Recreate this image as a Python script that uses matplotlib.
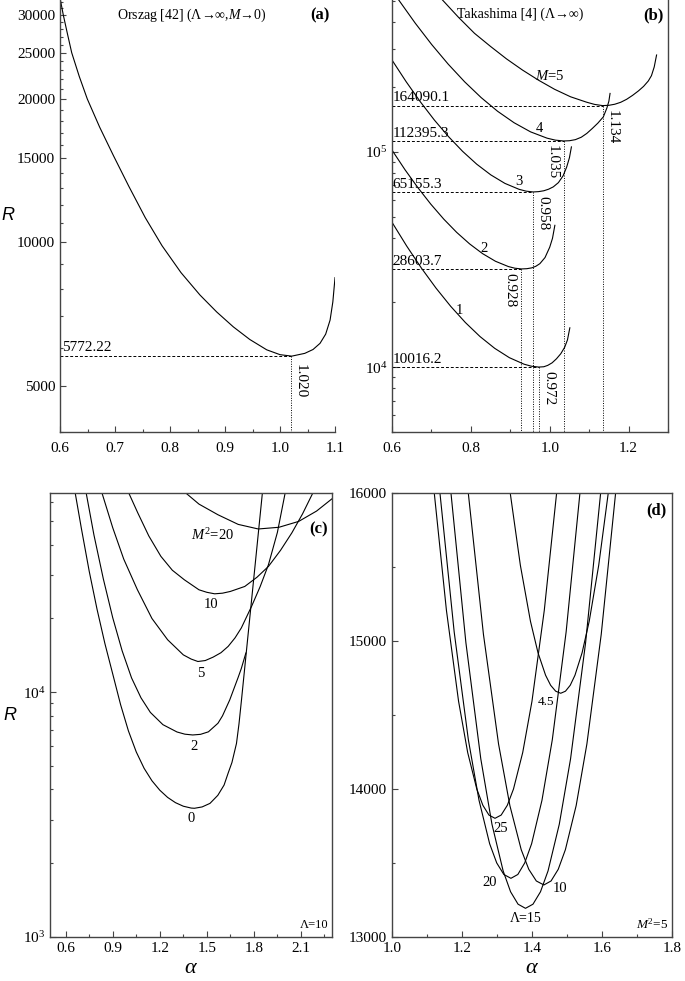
import matplotlib
matplotlib.use('Agg')
import matplotlib.pyplot as plt
from matplotlib.ticker import MultipleLocator, FixedLocator, LogLocator, NullFormatter, FixedFormatter

plt.rcParams['font.family'] = ['Liberation Serif', 'DejaVu Serif']
plt.rcParams['mathtext.fontset'] = 'custom'
plt.rcParams['mathtext.rm'] = 'Liberation Serif'
plt.rcParams['mathtext.it'] = 'Liberation Serif:italic'
plt.rcParams['mathtext.bf'] = 'Liberation Serif:bold'

# ---------------- datos ----------------
# (a) Orszag
a_alpha = [0.6007, 0.606, 0.6135, 0.6213, 0.635, 0.6496, 0.672, 0.697, 0.725, 0.755, 0.7855, 0.820, 0.8545,
           0.885, 0.9151, 0.945, 0.9758, 1.000, 1.0213, 1.045, 1.060, 1.0727, 1.083, 1.091, 1.096, 1.100]
a_R = [32260, 30000, 27400, 25000, 22300, 20000, 17460, 15220, 13120, 11270, 9840, 8640, 7754,
       7143, 6649, 6256, 5951, 5813, 5772, 5850, 5960, 6140, 6420, 6870, 7500, 8435]
a_min_alpha = 1.020
a_min_R = 5772.22

# (b) Takashima, M = 1..5
b1_alpha = [0.600, 0.6372, 0.6744, 0.7116, 0.7488, 0.786, 0.8232, 0.8604, 0.8976, 0.9348, 0.9534, 0.972,
            0.985, 0.995, 1.006, 1.017, 1.028, 1.038, 1.045, 1.051]
b1_R = [47100, 36540, 28890, 23300, 19180, 16130, 13880, 12240, 11075, 10330, 10110, 10016,
        10050, 10200, 10480, 10940, 11550, 12390, 13400, 15240]
b2_alpha = [0.600, 0.6328, 0.6656, 0.6984, 0.7312, 0.764, 0.7968, 0.8296, 0.8624, 0.8952, 0.9116, 0.928,
            0.942, 0.955, 0.965, 0.975, 0.988, 1.000, 1.007, 1.013]
b2_R = [101900, 82700, 68230, 57180, 48740, 42290, 37390, 33700, 31050, 29340, 28830, 28604,
        28680, 28950, 29450, 30270, 32300, 36100, 39700, 45600]
b3_alpha = [0.600, 0.6358, 0.6716, 0.7074, 0.7432, 0.779, 0.8148, 0.8506, 0.8864, 0.9222, 0.9401, 0.958,
            0.972, 0.985, 0.997, 1.009, 1.022, 1.034, 1.043, 1.050, 1.055]
b3_R = [267000, 211900, 171100, 140600, 117800, 100600, 87700, 78200, 71400, 67030, 65720, 65155,
        65400, 66000, 67100, 68800, 72000, 77500, 85100, 94000, 105500]
b4_alpha = [0.617, 0.6588, 0.7006, 0.7424, 0.7842, 0.826, 0.8678, 0.9096, 0.9514, 0.9932, 1.0141, 1.035,
            1.050, 1.065, 1.080, 1.094, 1.108, 1.122, 1.136, 1.145, 1.150, 1.153]
b4_R = [507600, 396400, 315300, 255700, 211600, 178800, 154400, 136600, 123900, 115840, 113430, 112395,
        112700, 114000, 117000, 121850, 128500, 136000, 145500, 160000, 172000, 186900]
b5_alpha = [0.728, 0.7686, 0.8092, 0.8498, 0.8904, 0.931, 0.9716, 1.0122, 1.0528, 1.0934, 1.1137, 1.134,
            1.150, 1.165, 1.180, 1.195, 1.210, 1.225, 1.238, 1.250, 1.258, 1.265, 1.271]
b5_R = [507600, 421800, 355400, 309000, 270400, 239900, 215300, 195400, 180300, 170200, 166200, 164090,
        164600, 166500, 170000, 175500, 183000, 192000, 201500, 213500, 226000, 248000, 281900]

b_min_alpha = [0.972, 0.928, 0.958, 1.035, 1.134]
b_min_R = [10016.2, 28603.7, 65155.3, 112395.3, 164090.1]
b_min_alpha_txt = ["0.972", "0.928", "0.958", "1.035", "1.134"]
b_min_R_txt = ["10016.2", "28603.7", "65155.3", "112395.3", "164090.1"]
b_curve_labels = ["1", "2", "3", "4", "$M$=5"]

# (c) Lambda = 10, M^2 = 0, 2, 5, 10, 20
c0_alpha = [0.661, 0.700, 0.750, 0.800, 0.850, 0.900, 0.950, 1.000, 1.050, 1.100, 1.150, 1.200, 1.250, 1.300,
            1.350, 1.400, 1.421, 1.470, 1.520, 1.570, 1.610, 1.636, 1.660, 1.689, 1.705, 1.721, 1.760, 1.807, 1.854]
c0_R = [65000, 46700, 31200, 21800, 15800, 11860, 8890, 6942, 5694, 4881, 4341, 3972, 3711, 3532,
        3416, 3357, 3350, 3393, 3508, 3784, 4169, 4667, 5152, 6166, 7413, 9290, 16440, 32660, 65000]
c2_alpha = [0.731, 0.780, 0.840, 0.900, 0.960, 1.020, 1.080, 1.140, 1.220, 1.310, 1.360, 1.410,
            1.460, 1.510, 1.571, 1.600, 1.646, 1.700, 1.720, 1.749]
c2_R = [65000, 43950, 29040, 20140, 14750, 11430, 9480, 8260, 7360, 6870, 6730, 6680,
        6720, 6880, 7460, 8000, 9290, 11500, 12500, 14450]
c5_alpha = [0.832, 0.900, 0.970, 1.057, 1.150, 1.250, 1.350, 1.400, 1.443, 1.490, 1.540, 1.590, 1.636,
            1.680, 1.720, 1.785, 1.840, 1.893, 1.950, 1.999]
c5_R = [65000, 47000, 35000, 26240, 20000, 16370, 14200, 13650, 13340, 13460, 13900, 14490, 15380,
        16670, 18300, 22400, 27000, 33200, 45000, 65000]
c10_alpha = [1.003, 1.060, 1.130, 1.207, 1.280, 1.357, 1.450, 1.500, 1.550, 1.600, 1.650, 1.742, 1.820,
             1.893, 1.970, 2.042, 2.110, 2.175]
c10_R = [65000, 54000, 43500, 35900, 31500, 28780, 26200, 25590, 25230, 25380, 25800, 27040, 29500,
         32660, 38000, 44770, 53500, 65000]
c20_alpha = [1.368, 1.450, 1.571, 1.700, 1.828, 1.960, 2.086, 2.200, 2.317]
c20_R = [65000, 58700, 53100, 48500, 46450, 47200, 49890, 55000, 63100]

# (d) M^2 = 5, Lambda = 25, 20, 15, 10, 4.5
d25_alpha = [1.1215, 1.1561, 1.1907, 1.2167, 1.2427, 1.2600, 1.2773, 1.2946, 1.3122, 1.3297, 1.3473, 1.3736, 1.4000, 1.4351, 1.4702]
d25_R = [16000, 15208, 14593, 14246, 13999, 13889, 13823, 13801, 13823, 13889, 13999, 14246, 14593, 15208, 16000]
d20_alpha = [1.1377, 1.1782, 1.2186, 1.2490, 1.2793, 1.2995, 1.3198, 1.3400, 1.3597, 1.3793, 1.3990, 1.4285, 1.4580, 1.4974, 1.5367]
d20_R = [16000, 15062, 14333, 13923, 13629, 13499, 13421, 13395, 13421, 13499, 13629, 13923, 14333, 15062, 16000]
d15_alpha = [1.1691, 1.2116, 1.2541, 1.2859, 1.3178, 1.3390, 1.3603, 1.3815, 1.4029, 1.4243, 1.4458, 1.4779, 1.5100, 1.5529, 1.5957]
d15_R = [16000, 14989, 14203, 13761, 13445, 13304, 13220, 13192, 13220, 13304, 13445, 13761, 14203, 14989, 16000]
d10_alpha = [1.2185, 1.2616, 1.3047, 1.3370, 1.3693, 1.3909, 1.4124, 1.4340, 1.4544, 1.4749, 1.4953, 1.5260, 1.5566, 1.5975, 1.6384]
d10_R = [16000, 15046, 14304, 13887, 13589, 13456, 13377, 13350, 13377, 13456, 13589, 13887, 14304, 15046, 16000]
d45_alpha = [1.3381, 1.3669, 1.3957, 1.4172, 1.4388, 1.4532, 1.4676, 1.4820, 1.4955, 1.5091, 1.5226, 1.5429, 1.5632, 1.5903, 1.6174]
d45_R = [16000, 15513, 15134, 14921, 14769, 14701, 14661, 14647, 14661, 14701, 14769, 14921, 15134, 15513, 16000]

# ---------------- estilo ----------------
lw = 0.8
spine_color = '#444444'
tick_fs = 11


def estilo(ax, spines_off=(), xpad=3.5):
    for s in ax.spines:
        ax.spines[s].set_color(spine_color)
        ax.spines[s].set_linewidth(1.0)
    for s in spines_off:
        ax.spines[s].set_visible(False)
    ax.tick_params(which='both', direction='in', top=False, right=False,
                   colors=spine_color, labelcolor='black', labelsize=tick_fs)
    ax.tick_params(which='major', length=4.5, width=0.8)
    ax.tick_params(which='minor', length=2.5, width=0.8)
    ax.tick_params(axis='x', which='major', pad=xpad)


fig = plt.figure(figsize=(6.85, 9.81), dpi=100)

# ---------------- (a) ----------------
ax = fig.add_axes([0.0876, 0.5596, 0.4015, 0.4404])
estilo(ax, spines_off=('top', 'right'), xpad=7)
ax.plot(a_alpha, a_R, color='k', lw=lw)
ax.set_yscale('log')
ax.set_xlim(0.6, 1.1)
ax.set_ylim(4000, 32260)
ax.plot([0.6, a_min_alpha], [a_min_R, a_min_R], color='k', lw=0.7, ls=(0, (3, 2)))
ax.plot([a_min_alpha, a_min_alpha], [a_min_R, 4000], color='k', lw=0.7, ls=(0, (1, 1.5)))
ax.text(0.603, a_min_R * 1.012, "5772.22", ha='left', va='bottom', fontsize=11)
ax.text(1.024, 5570, "1.020", rotation=-90, ha='left', va='top', fontsize=11)
ax.xaxis.set_major_locator(MultipleLocator(0.1))
ax.xaxis.set_minor_locator(MultipleLocator(0.05))
ax.xaxis.set_major_formatter(plt.FormatStrFormatter('%.1f'))
ya = [5000, 10000, 15000, 20000, 25000, 30000]
ax.yaxis.set_major_locator(FixedLocator(ya))
ax.yaxis.set_major_formatter(FixedFormatter([str(v) for v in ya]))
ax.yaxis.set_minor_locator(FixedLocator([v for v in range(4000, 33000, 1000) if v not in ya]))
ax.yaxis.set_minor_formatter(NullFormatter())
ax.text(0.479, 0.965, "Orszag [42] (\u039b\u2192\u221e,$M$\u21920)", transform=ax.transAxes,
        ha='center', va='center', fontsize=10)
ax.text(0.945, 0.965, "(a)", transform=ax.transAxes, ha='center', va='center',
        fontsize=12, fontweight='bold')
fig.text(8 / 685, 1 - 215 / 981, "R", ha='center', va='center', fontsize=13,
         family='Liberation Sans', style='italic')

# ---------------- (b) ----------------
ax = fig.add_axes([0.5723, 0.5596, 0.4029, 0.4404])
estilo(ax, spines_off=('top',), xpad=7)
for al, rr in [(b1_alpha, b1_R), (b2_alpha, b2_R), (b3_alpha, b3_R), (b4_alpha, b4_R), (b5_alpha, b5_R)]:
    ax.plot(al, rr, color='k', lw=lw)
ax.set_yscale('log')
ax.set_xlim(0.6, 1.3)
ax.set_ylim(5000, 507600)
lados = ['right', 'left', 'right', 'left', 'right']
for am, rm, ta, tr, lado in zip(b_min_alpha, b_min_R, b_min_alpha_txt, b_min_R_txt, lados):
    ax.plot([0.6, am], [rm, rm], color='k', lw=0.7, ls=(0, (3, 2)))
    ax.plot([am, am], [rm, 5000], color='k', lw=0.7, ls=(0, (1, 1.5)))
    ax.text(0.602, rm * 1.015, tr, ha='left', va='bottom', fontsize=11)
    if lado == 'right':
        ax.text(am + 0.009, rm * 0.955, ta, rotation=-90, ha='left', va='top', fontsize=11)
    else:
        ax.text(am - 0.012, rm * 0.955, ta, rotation=-90, ha='right', va='top', fontsize=11)
b_lab_pos = [(0.770, 18360), (0.834, 35660), (0.921, 73100), (0.9745, 128800), (1.0, 225000)]
for (xl, yl), t in zip(b_lab_pos, b_curve_labels):
    ax.text(xl, yl, t, ha='center', va='center', fontsize=10.5)
ax.xaxis.set_major_locator(MultipleLocator(0.2))
ax.xaxis.set_minor_locator(MultipleLocator(0.1))
ax.xaxis.set_major_formatter(plt.FormatStrFormatter('%.1f'))
ax.yaxis.set_major_locator(FixedLocator([1e4, 1e5]))
ax.yaxis.set_major_formatter(FixedFormatter(['$10^4$', '$10^5$']))
ax.yaxis.set_minor_locator(LogLocator(base=10, subs=(2, 3, 4, 5, 6, 7, 8, 9)))
ax.yaxis.set_minor_formatter(NullFormatter())
ax.text(0.464, 0.968, "Takashima [4] (\u039b\u2192\u221e)", transform=ax.transAxes,
        ha='center', va='center', fontsize=10)
ax.text(0.946, 0.965, "(b)", transform=ax.transAxes, ha='center', va='center',
        fontsize=12, fontweight='bold')

# ---------------- (c) ----------------
ax = fig.add_axes([0.0730, 0.04516, 0.4121, 0.4520])
estilo(ax)
for al, rr in [(c0_alpha, c0_R), (c2_alpha, c2_R), (c5_alpha, c5_R), (c10_alpha, c10_R), (c20_alpha, c20_R)]:
    ax.plot(al, rr, color='k', lw=lw)
ax.set_yscale('log')
ax.set_xlim(0.5, 2.3)
ax.set_ylim(1000, 65000)
c_lab = [(1.539, 44050, '$M^2$=20'), (1.524, 22750, '10'), (1.464, 11970, '5'),
         (1.421, 5985, '2'), (1.40, 3050, '0')]
for xl, yl, t in c_lab:
    ax.text(xl, yl, t, ha='center', va='center', fontsize=10.5)
ax.xaxis.set_major_locator(FixedLocator([0.6, 0.9, 1.2, 1.5, 1.8, 2.1]))
ax.xaxis.set_major_formatter(FixedFormatter(['0.6', '0.9', '1.2', '1.5', '1.8', '2.1']))
ax.xaxis.set_minor_locator(FixedLocator([0.75, 1.05, 1.35, 1.65, 1.95, 2.25]))
ax.yaxis.set_major_locator(FixedLocator([1e3, 1e4]))
ax.yaxis.set_major_formatter(FixedFormatter(['$10^3$', '$10^4$']))
ax.yaxis.set_minor_locator(LogLocator(base=10, subs=(2, 3, 4, 5, 6, 7, 8, 9)))
ax.yaxis.set_minor_formatter(NullFormatter())
ax.text(0.95, 0.919, "(c)", transform=ax.transAxes, ha='center', va='center',
        fontsize=12, fontweight='bold')
ax.text(0.985, 0.012, "\u039b=10", transform=ax.transAxes, ha='right', va='bottom', fontsize=9)
ax.set_xlabel(r"$\alpha$", fontsize=16, labelpad=3)
fig.text(10 / 685, 1 - 715 / 981, "R", ha='center', va='center', fontsize=13,
         family='Liberation Sans', style='italic')

# ---------------- (d) ----------------
ax = fig.add_axes([0.5718, 0.04516, 0.4096, 0.4520])
estilo(ax)
for al, rr in [(d25_alpha, d25_R), (d20_alpha, d20_R), (d15_alpha, d15_R), (d10_alpha, d10_R), (d45_alpha, d45_R)]:
    ax.plot(al, rr, color='k', lw=lw)
ax.set_xlim(1.0, 1.8)
ax.set_ylim(13000, 16000)
d_lab = [(1.44, 14586, '4.5', 9.5), (1.312, 13733, '25', 10.5), (1.280, 13365, '20', 10.5),
         (1.480, 13327, '10', 10.5), (1.383, 13124, '\u039b=15', 10)]
for xl, yl, t, fs in d_lab:
    ax.text(xl, yl, t, ha='center', va='center', fontsize=fs)
ax.xaxis.set_major_locator(MultipleLocator(0.2))
ax.xaxis.set_minor_locator(MultipleLocator(0.1))
ax.xaxis.set_major_formatter(plt.FormatStrFormatter('%.1f'))
ax.yaxis.set_major_locator(MultipleLocator(1000))
ax.yaxis.set_minor_locator(MultipleLocator(500))
ax.text(0.944, 0.962, "(d)", transform=ax.transAxes, ha='center', va='center',
        fontsize=12, fontweight='bold')
ax.text(0.985, 0.012, "$M^2$=5", transform=ax.transAxes, ha='right', va='bottom', fontsize=9.5)
ax.set_xlabel(r"$\alpha$", fontsize=16, labelpad=3)

fig.savefig('out.png', dpi=100)
